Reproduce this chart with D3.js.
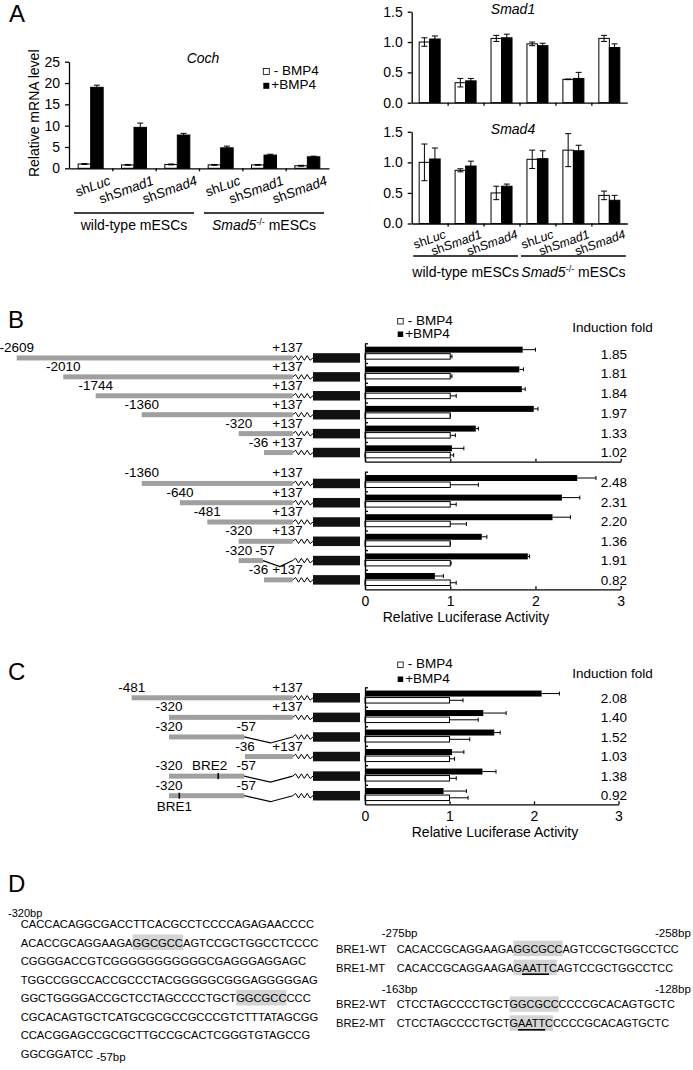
<!DOCTYPE html>
<html>
<head>
<meta charset="utf-8">
<script src="https://cdn.jsdelivr.net/npm/d3@7"></script>
<style>
  body { margin: 0; background: #fff; }
  svg { display: block; }
</style>
</head>
<body>
<svg id="fig" width="693" height="1070"></svg>
<script>
// ---------- panel A: qPCR, -BMP4 (white) / +BMP4 (black)
const knockdowns = ['Luc', 'Smad1', 'Smad4', 'Luc', 'Smad1', 'Smad4'];
const cellLines = [
    { name: 'wild-type', italic: false, sup: '' },
    { name: 'Smad5', italic: true, sup: '-/-' }
];
const cochTicks = [0, 5, 10, 15, 20, 25];
const cochMinus = [1.0, 0.8, 0.9, 0.8, 0.8, 0.6];
const cochMinusErr = [0.1, 0.1, 0.1, 0.1, 0.1, 0.1];
const cochPlus = [19.0, 9.6, 7.8, 4.8, 3.1, 2.7];
const cochPlusErr = [0.5, 1.0, 0.4, 0.4, 0.2, 0.15];

const smadTicks = [0, 0.5, 1.0, 1.5];
const smad1Minus = [1.00, 0.33, 1.06, 0.97, 0.385, 1.06];
const smad1MinusErr = [0.07, 0.07, 0.05, 0.03, 0.005, 0.05];
const smad1Plus = [1.05, 0.36, 1.07, 0.94, 0.40, 0.91];
const smad1PlusErr = [0.05, 0.04, 0.06, 0.04, 0.10, 0.06];
const smad4Minus = [1.00, 0.87, 0.50, 1.05, 1.20, 0.46];
const smad4MinusErr = [0.30, 0.025, 0.11, 0.15, 0.27, 0.07];
const smad4Plus = [1.055, 0.94, 0.61, 1.06, 1.19, 0.38];
const smad4PlusErr = [0.18, 0.08, 0.035, 0.13, 0.09, 0.08];

// ---------- panel B: promoter deletions (bp, relative to TSS)
const bStarts1 = [-2609, -2010, -1744, -1360, -320, -36];
const bEnds1 = [137, 137, 137, 137, 137, 137];
const bPlus1 = [1.85, 1.81, 1.84, 1.98, 1.30, 1.02];
const bPlusErr1 = [0.15, 0.05, 0.04, 0.05, 0.03, 0.14];
const bMinus1 = [1, 1, 1, 1, 1, 1];
const bMinusErr1 = [0.02, 0.02, 0.07, 0.0, 0.06, 0.04];
const bFold1 = ['1.85', '1.81', '1.84', '1.97', '1.33', '1.02'];

const bStarts2 = [-1360, -640, -481, -320, -320, -36];
const bEnds2 = [137, 137, 137, 137, -57, 137];
const bPlus2 = [2.49, 2.31, 2.20, 1.37, 1.91, 0.82];
const bPlusErr2 = [0.22, 0.21, 0.21, 0.06, 0.02, 0.10];
const bMinus2 = [1, 1, 1, 1, 1, 1];
const bMinusErr2 = [0.33, 0.07, 0.19, 0.0, 0.01, 0.07];
const bFold2 = ['2.48', '2.31', '2.20', '1.36', '1.91', '0.82'];

// ---------- panel C: BRE mutants
const cStarts = [-481, -320, -320, -36, -320, -320];
const cEnds = [137, 137, -57, 137, -57, -57];
const cBreNames = [null, null, null, null, 'BRE2', 'BRE1'];
const cBrePos = [null, null, null, null, -148, -284];
const cPlus = [2.09, 1.40, 1.53, 1.03, 1.39, 0.93];
const cPlusErr = [0.21, 0.27, 0.07, 0.14, 0.16, 0.27];
const cMinus = [1, 1, 1, 1, 1, 1];
const cMinusErr = [0.16, 0.34, 0.24, 0.06, 0.08, 0.22];
const cFold = ['2.08', '1.40', '1.52', '1.03', '1.38', '0.92'];
const lucTicks = [0, 1, 2, 3];

// ---------- panel D: sequences
const promoterSeq = [
    'CACCACAGGCGACCTTCACGCCTCCCCAGAGAACCCC',
    'ACACCGCAGGAAGAGGCGCCAGTCCGCTGGCCTCCCC',
    'CGGGGACCGTCGGGGGGGGGGGCGAGGGAGGAGC',
    'TGGCCGGCCACCGCCCTACGGGGGCGGGAGGGGGAG',
    'GGCTGGGGACCGCTCCTAGCCCCTGCTGGCGCCCCC',
    'CGCACAGTGCTCATGCGCGCCGCCCGTCTTTATAGCGG',
    'CCACGGAGCCGCGCTTGCCGCACTCGGGTGTAGCCG',
    'GGCGGATCC'
];
const breMotif = 'GGCGCC';
const mutMotif = 'GAATTC';
const mutCore = 'AATT';
const breIds = ['BRE1', 'BRE2'];
const breWT = ['CACACCGCAGGAAGAGGCGCCAGTCCGCTGGCCTCC', 'CTCCTAGCCCCTGCTGGCGCCCCCCGCACAGTGCTC'];
const breMT = ['CACACCGCAGGAAGAGAATTCAGTCCGCTGGCCTCC', 'CTCCTAGCCCCTGCTGAATTCCCCCGCACAGTGCTC'];
const breFrom = ['-275bp', '-163bp'];
const breTo = ['-258bp', '-128bp'];

const FONT = '"Liberation Sans", Arial, Helvetica, sans-serif';
const GRAY = '#a0a0a0';
const SHADE = '#d4d4d4';
const BOX_X = 313, BOX_W = 47;

const svg = d3.select('#fig').attr('font-family', FONT);
svg.append('rect').attr('width', 693).attr('height', 1070).attr('fill', '#fff');

function panelLetter(t, x, y) {
    svg.append('text').attr('x', x).attr('y', y).attr('font-size', 24).text(t);
}
panelLetter('A', 9, 22);
panelLetter('B', 8, 328);
panelLetter('C', 8, 680);
panelLetter('D', 8, 892);

function cleanAxis(sel, size) {
    sel.attr('font-family', FONT).attr('font-size', size);
    sel.selectAll('path, line').attr('stroke-width', 1.3);
    sel.selectAll('text').attr('fill', '#000');
}

// grouped vertical bars with error bars (panel A)
function mrnaChart(o) {
    const g = svg.append('g');
    const x = d3.scaleBand().domain(d3.range(o.minus.length)).range([o.left, o.right]);
    const y = d3.scaleLinear().domain([0, o.max]).range([o.bottom, o.top]);
    const sets = [
        { vals: o.minus, errs: o.minusErr, fill: '#fff', shift: -o.barW },
        { vals: o.plus, errs: o.plusErr, fill: '#000', shift: 0 }
    ];
    sets.forEach(s => {
        const bx = i => x(i) + x.bandwidth() / 2 + s.shift;
        g.append('g').selectAll('rect').data(s.vals).join('rect')
            .attr('x', (d, i) => bx(i)).attr('y', d => y(d))
            .attr('width', o.barW).attr('height', d => y(0) - y(d))
            .attr('fill', s.fill).attr('stroke', '#000');
        g.append('g').selectAll('path').data(s.vals).join('path')
            .attr('d', (d, i) => {
                const xm = bx(i) + o.barW / 2, e = s.errs[i];
                const yt = y(d + e), yb = y(Math.max(d - e, 0));
                return `M${xm},${yt}V${yb}M${xm - 3},${yt}H${xm + 3}M${xm - 3},${yb}H${xm + 3}`;
            })
            .attr('fill', 'none').attr('stroke', '#000');
    });

    g.append('g').attr('transform', `translate(${o.left},0)`)
        .call(d3.axisLeft(y).tickValues(o.ticks).tickFormat(o.fmt).tickSize(4).tickPadding(5).tickSizeOuter(0))
        .call(cleanAxis, 14);
    const xb = d3.scaleLinear().domain([0, 6]).range([o.left, o.right]);
    g.append('g').attr('transform', `translate(0,${o.bottom})`)
        .call(d3.axisBottom(xb).tickValues([1, 2, 3, 4, 5]).tickSize(3).tickFormat('').tickSizeOuter(0))
        .call(cleanAxis, 14);

    g.append('text').attr('x', o.title[1]).attr('y', o.title[2]).attr('text-anchor', 'middle')
        .attr('font-size', 14).attr('font-style', 'italic').text(o.title[0]);

    if (!o.labels) return;
    g.append('g').selectAll('text').data(knockdowns).join('text')
        .attr('transform', (d, i) => `translate(${x(i) + x.bandwidth() - 1},${o.bottom + o.labelDy}) rotate(-20)`)
        .attr('text-anchor', 'end').attr('font-size', o.labelSize)
        .call(t => {
            t.append('tspan').text('sh');
            t.append('tspan').attr('font-style', 'italic').text(d => d);
        });

    cellLines.forEach((c, k) => {
        const xa = x(3 * k) + o.inset, xz = x(3 * k + 2) + x.bandwidth() - o.inset;
        g.append('line').attr('x1', xa).attr('x2', xz).attr('y1', o.lineY).attr('y2', o.lineY)
            .attr('stroke', '#000').attr('stroke-width', 1.4);
        const t = g.append('text').attr('x', (xa + xz) / 2).attr('y', o.lineY + o.nameDy)
            .attr('text-anchor', 'middle').attr('font-size', 14);
        t.append('tspan').attr('font-style', c.italic ? 'italic' : null).text(c.name);
        if (c.sup) {
            t.append('tspan').attr('font-size', 9).attr('dy', -5).text(c.sup);
            t.append('tspan').attr('dy', 5).text(' mESCs');
        } else {
            t.append('tspan').text(' mESCs');
        }
    });
}

mrnaChart({
    left: 69, right: 329, top: 61.7, bottom: 168.3, max: 25, ticks: cochTicks, fmt: d3.format('d'),
    minus: cochMinus, minusErr: cochMinusErr, plus: cochPlus, plusErr: cochPlusErr, barW: 12.5,
    title: ['Coch', 203, 63], labels: true, labelDy: 16, labelSize: 13.5, lineY: 213, nameDy: 17, inset: 5
});
mrnaChart({
    left: 411.7, right: 627.3, top: 11.7, bottom: 102.7, max: 1.5, ticks: smadTicks, fmt: d3.format('.1f'),
    minus: smad1Minus, minusErr: smad1MinusErr, plus: smad1Plus, plusErr: smad1PlusErr, barW: 10.5,
    title: ['Smad1', 513, 14], labels: false
});
mrnaChart({
    left: 411.7, right: 627.3, top: 131.8, bottom: 223.5, max: 1.5, ticks: smadTicks, fmt: d3.format('.1f'),
    minus: smad4Minus, minusErr: smad4MinusErr, plus: smad4Plus, plusErr: smad4PlusErr, barW: 10.5,
    title: ['Smad4', 513, 134], labels: true, labelDy: 14, labelSize: 12.5, lineY: 256, nameDy: 21, inset: 1.5
});

// y label and legend of the Coch plot
svg.append('text').attr('transform', 'translate(39,113.3) rotate(-90)').attr('text-anchor', 'middle')
    .attr('font-size', 14).text('Relative mRNA level');

function bmpLegend(x, y1, y2, size, sq) {
    svg.append('rect').attr('x', x).attr('y', y1 - sq).attr('width', sq).attr('height', sq)
        .attr('fill', '#fff').attr('stroke', '#000').attr('stroke-width', 0.8);
    svg.append('text').attr('x', x + sq + 4.5).attr('y', y1 + 0.5).attr('font-size', size).text('- BMP4');
    svg.append('rect').attr('x', x).attr('y', y2 - sq).attr('width', sq).attr('height', sq).attr('fill', '#000');
    svg.append('text').attr('x', x + sq + 2).attr('y', y2 + 0.5).attr('font-size', size).text('+BMP4');
}
bmpLegend(263.3, 74.5, 88.8, 13.5, 6);
bmpLegend(397.7, 324, 337, 13.5, 5.5);
bmpLegend(397.7, 667.5, 682, 13.5, 5.5);

// horizontal luciferase bars (panels B and C)
function lucBars(o) {
    const g = svg.append('g');
    const x = d3.scaleLinear().domain([0, 3]).range([365, o.right]);
    const y = d3.scaleBand().domain(d3.range(o.plus.length)).range([o.top, o.bottom]);
    const cy = i => y(i) + y.bandwidth() / 2;

    g.append('g').selectAll('rect').data(o.plus).join('rect')
        .attr('x', x(0)).attr('y', (d, i) => cy(i) - 6.5)
        .attr('width', d => x(d) - x(0)).attr('height', 6).attr('fill', '#000');
    g.append('g').selectAll('rect').data(o.minus).join('rect')
        .attr('x', x(0)).attr('y', (d, i) => cy(i) + 0.5)
        .attr('width', d => x(d) - x(0)).attr('height', 5.5)
        .attr('fill', '#fff').attr('stroke', '#000');

    const err = (vals, errs, dy) => g.append('g').selectAll('path').data(vals).join('path')
        .attr('d', (d, i) => {
            const xe = x(d + errs[i]), yc = cy(i) + dy;
            return `M${x(d)},${yc}H${xe}M${xe},${yc - 2}V${yc + 2}`;
        })
        .attr('fill', 'none').attr('stroke', '#000');
    err(o.plus, o.plusErr, -3.5);
    err(o.minus, o.minusErr, 3.25);

    const rows = d3.scaleLinear().domain([0, o.plus.length]).range([o.top, o.bottom]);
    g.append('g').attr('transform', `translate(${x(0)},0)`)
        .call(d3.axisRight(rows).tickValues(d3.range(o.plus.length)).tickSize(3).tickFormat('').tickSizeOuter(0))
        .call(cleanAxis, 14);
    g.append('g').attr('transform', `translate(0,${o.bottom})`)
        .call(d3.axisBottom(x).tickValues(lucTicks).tickSize(-3).tickPadding(7).tickSizeOuter(0)
            .tickFormat(o.titleX ? d3.format('d') : ''))
        .call(cleanAxis, 14);

    g.append('g').selectAll('text').data(o.fold).join('text')
        .attr('x', 627).attr('y', (d, i) => cy(i) + 5.5).attr('text-anchor', 'end')
        .attr('font-size', 13.5).text(d => d);

    if (o.titleX) {
        g.append('text').attr('x', o.titleX).attr('y', o.bottom + 32.5).attr('text-anchor', 'middle')
            .attr('font-size', 14).text('Relative Luciferase Activity');
    }
}

function zigzag(x0, x1) {
    const n = 7;
    const pts = d3.range(n + 1).map(k => [x0 + (x1 - x0) * k / n, (k === 0 || k === n) ? 0 : (k % 2 ? -2.3 : 2.3)]);
    return d3.line()(pts);
}

// reporter construct diagrams
function constructs(o) {
    const g = svg.append('g').attr('font-size', 13.5);
    const y = d3.scaleBand().domain(d3.range(o.starts.length)).range(o.rows);
    const endX = o.pos(137);
    const data = o.starts.map((s, i) => ({
        s, e: o.ends[i], i,
        bre: o.brePos ? o.brePos[i] : null,
        breName: o.breNames ? o.breNames[i] : null
    }));
    const rows = g.selectAll('g').data(data).join('g')
        .attr('transform', d => `translate(0,${y(d.i) + y.bandwidth() / 2})`);

    rows.append('rect').attr('x', d => o.pos(d.s)).attr('y', -2.5)
        .attr('width', d => o.pos(d.e) - o.pos(d.s)).attr('height', 5).attr('fill', GRAY);
    rows.filter(d => d.e !== 137).append('path')
        .attr('d', d => {
            const a = o.pos(d.e), m = (a + endX) / 2 + 2;
            return `M${a},0L${m},6L${endX},0`;
        })
        .attr('fill', 'none').attr('stroke', '#000').attr('stroke-width', 1.2);
    rows.append('path').attr('d', zigzag(endX, BOX_X)).attr('fill', 'none').attr('stroke', '#000');
    rows.append('rect').attr('x', BOX_X).attr('y', -4.75).attr('width', BOX_W).attr('height', 9.5).attr('fill', '#111');

    rows.each(function (d) {
        const r = d3.select(this);
        let endLab, limit;
        if (d.e === 137) {
            endLab = r.append('text').attr('x', endX + 10).attr('y', -6).attr('text-anchor', 'end').text('+137');
            limit = endX + 10 - endLab.node().getComputedTextLength() - 4;
        } else {
            endLab = r.append('text').attr('x', o.pos(d.e) + 2).attr('y', -6).attr('text-anchor', 'middle').text(d.e);
            limit = o.pos(d.e) + 2 - endLab.node().getComputedTextLength() / 2 - 3;
        }
        const sl = r.append('text').attr('x', o.pos(d.s)).attr('y', -6).attr('text-anchor', 'middle').text(d.s);
        const half = sl.node().getComputedTextLength() / 2;
        if (o.pos(d.s) + half > limit) sl.attr('x', limit - half);
        if (d.bre !== null && d.bre !== undefined) {
            const bx = o.pos(d.bre);
            r.append('line').attr('x1', bx).attr('x2', bx).attr('y1', -3).attr('y2', 3)
                .attr('stroke', '#000').attr('stroke-width', 1.6);
            if (d.breName === 'BRE1') {
                r.append('text').attr('x', bx - 5).attr('y', 15.7).attr('text-anchor', 'middle').text(d.breName);
            } else {
                r.append('text').attr('x', bx + 9).attr('y', -6).attr('text-anchor', 'end').text(d.breName);
            }
        }
    });
}

// schematic (not to scale) promoter coordinates
const posB = d3.scaleLinear()
    .domain([-2609, -2010, -1744, -1360, -640, -481, -320, -57, -36, 137])
    .range([16.7, 63.3, 95.7, 141.7, 180, 207.3, 238.7, 263, 264, 292.7]);
const posC = d3.scaleLinear()
    .domain([-481, -320, -57, -36, 137])
    .range([131.7, 169, 244.3, 245, 292.7]);

constructs({ starts: bStarts1, ends: bEnds1, pos: posB, rows: [348.5, 462] });
constructs({ starts: bStarts2, ends: bEnds2, pos: posB, rows: [473.8, 589.5] });
constructs({ starts: cStarts, ends: cEnds, pos: posC, rows: [688, 805.5], brePos: cBrePos, breNames: cBreNames });

lucBars({ top: 343.3, bottom: 461.7, right: 620.7, plus: bPlus1, plusErr: bPlusErr1, minus: bMinus1, minusErr: bMinusErr1, fold: bFold1 });
lucBars({ top: 471.7, bottom: 589.3, right: 620.7, plus: bPlus2, plusErr: bPlusErr2, minus: bMinus2, minusErr: bMinusErr2, fold: bFold2, titleX: 466 });
lucBars({ top: 687.3, bottom: 804.3, right: 618.5, plus: cPlus, plusErr: cPlusErr, minus: cMinus, minusErr: cMinusErr, fold: cFold, titleX: 495 });

svg.append('text').attr('x', 612.5).attr('y', 331.7).attr('text-anchor', 'middle').attr('font-size', 13.5).text('Induction fold');
svg.append('text').attr('x', 612.5).attr('y', 678.3).attr('text-anchor', 'middle').attr('font-size', 13.5).text('Induction fold');

// ---------- panel D
function seqText(x, y, str, size, motif, core) {
    const g = svg.append('g');
    const shade = g.append('rect').attr('fill', SHADE);
    const t = g.append('text').attr('x', x).attr('y', y).attr('font-size', size).text(str);
    const at = motif ? str.indexOf(motif) : -1;
    if (at >= 0) {
        const n = t.node();
        shade.attr('x', x + n.getSubStringLength(0, at)).attr('y', y - 12)
            .attr('width', n.getSubStringLength(at, motif.length)).attr('height', 15.5);
        if (core) {
            const c = str.indexOf(core, at);
            const ux = x + n.getSubStringLength(0, c);
            g.append('line').attr('x1', ux).attr('x2', ux + n.getSubStringLength(c, core.length))
                .attr('y1', y + 2.5).attr('y2', y + 2.5).attr('stroke', '#000').attr('stroke-width', 1.6);
        }
    }
    return t;
}

svg.append('text').attr('x', 8).attr('y', 916.5).attr('font-size', 11).text('-320bp');
promoterSeq.forEach((line, i) => {
    const t = seqText(20.7, 928 + i * 18.5, line, 11.2, breMotif, null);
    if (i === promoterSeq.length - 1) {
        svg.append('text').attr('x', 20.7 + t.node().getComputedTextLength() + 3)
            .attr('y', 928 + i * 18.5 + 3.5).attr('font-size', 11.5).text('-57bp');
    }
});

breIds.forEach((id, k) => {
    const yw = 952.7 + k * 55.6;
    svg.append('text').attr('x', 381.7).attr('y', yw - 15.4).attr('font-size', 11.5).text(breFrom[k]);
    svg.append('text').attr('x', 655).attr('y', yw - 15.4).attr('font-size', 11.5).text(breTo[k]);
    svg.append('text').attr('x', 336).attr('y', yw).attr('font-size', 11.2).text(id + '-WT');
    svg.append('text').attr('x', 336).attr('y', yw + 19).attr('font-size', 11.2).text(id + '-MT');
    seqText(396.7, yw, breWT[k], 10.9, breMotif, null);
    seqText(396.7, yw + 19, breMT[k], 10.9, mutMotif, mutCore);
});
</script>
</body>
</html>
